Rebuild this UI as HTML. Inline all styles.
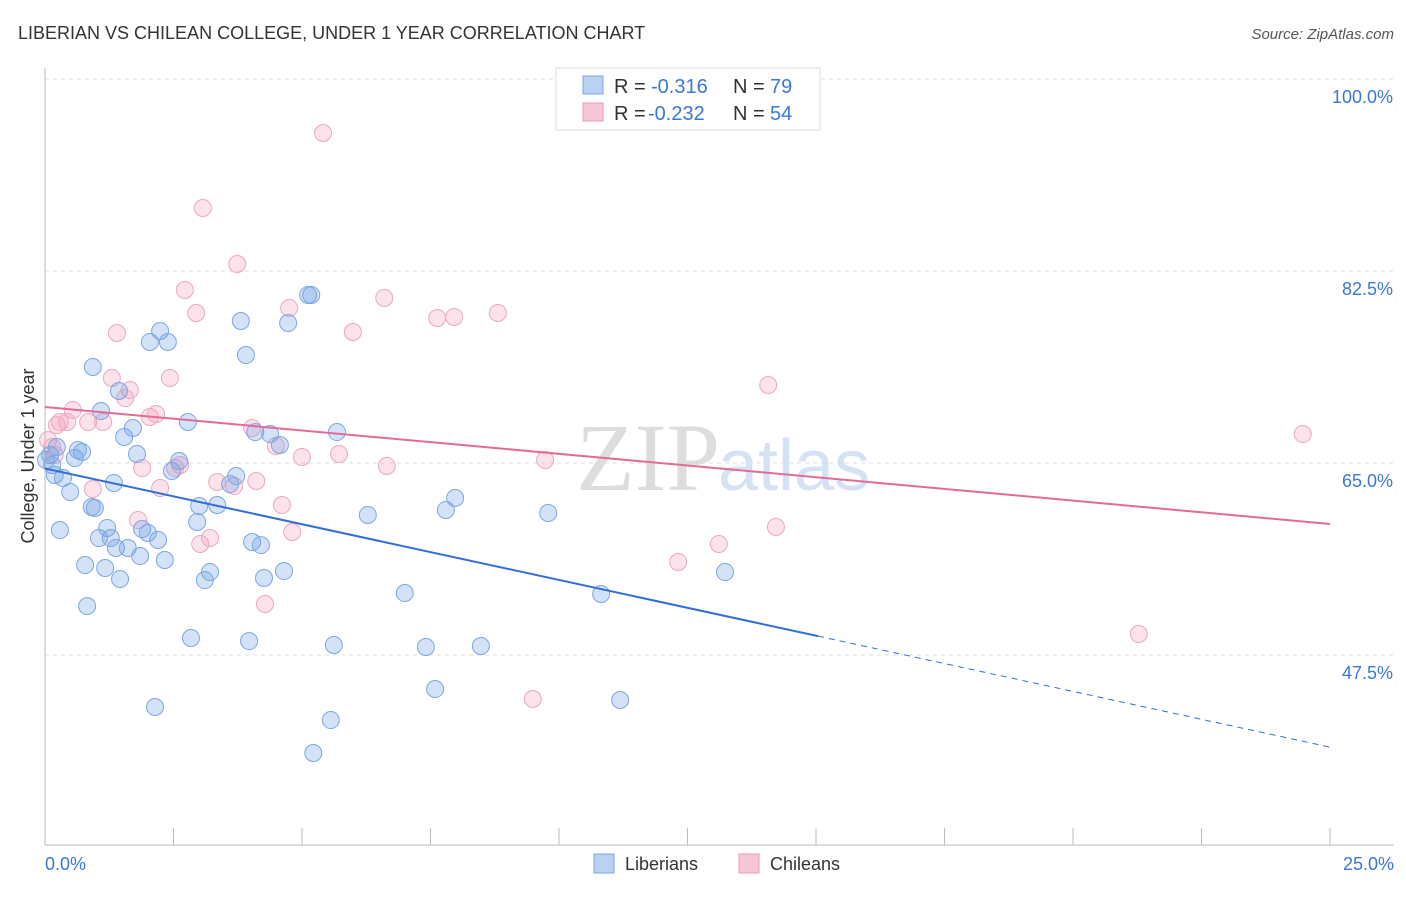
<!DOCTYPE html>
<html><head><meta charset="utf-8"><style>
body{margin:0;background:#fff;font-family:"Liberation Sans",sans-serif}
</style></head><body>
<svg width="1406" height="892" viewBox="0 0 1406 892" xmlns="http://www.w3.org/2000/svg">
<text x="18" y="39" font-size="18" fill="#333">LIBERIAN VS CHILEAN COLLEGE, UNDER 1 YEAR CORRELATION CHART</text>
<text x="1394" y="39" font-size="15" fill="#555" font-style="italic" text-anchor="end">Source: ZipAtlas.com</text>
<g id="grid"></g>
<text x="720" y="490" font-size="96" fill="#ddd" font-family="Liberation Serif" text-anchor="end">ZIP</text>
<text x="718" y="490" font-size="72" fill="#d5e2f3">atlas</text>
<g id="marks"></g>
<text transform="translate(34,456) rotate(-90)" font-size="18" fill="#333" text-anchor="middle">College, Under 1 year</text>
<text x="45" y="870" font-size="18" fill="#3a78d8">0.0%</text>
<text x="1394" y="870" font-size="18" fill="#3a78d8" text-anchor="end">25.0%</text>
<g>
<rect x="556" y="68" width="264" height="62" fill="#fff" stroke="#ddd"/>
<rect x="583" y="76" width="20" height="18" fill="#b9d1f3" stroke="#7aa5e3"/>
<rect x="583" y="103" width="20" height="18" fill="#f9c6d6" stroke="#eb9ab6"/>
<text x="614" y="93" font-size="20" fill="#333">R =</text>
<text x="651" y="93" font-size="20" fill="#3a78d8">-0.316</text>
<text x="733" y="93" font-size="20" fill="#333">N =</text>
<text x="770" y="93" font-size="20" fill="#3a78d8">79</text>
<text x="614" y="120" font-size="20" fill="#333">R =</text>
<text x="648" y="120" font-size="20" fill="#3a78d8">-0.232</text>
<text x="733" y="120" font-size="20" fill="#333">N =</text>
<text x="770" y="120" font-size="20" fill="#3a78d8">54</text>
</g>
<g>
<rect x="594" y="854" width="20" height="19" fill="#b9d1f3" stroke="#7aa5e3"/>
<text x="625" y="870" font-size="18" fill="#333">Liberians</text>
<rect x="739" y="854" width="20" height="19" fill="#f9c6d6" stroke="#eb9ab6"/>
<text x="770" y="870" font-size="18" fill="#333">Chileans</text>
</g>
</svg>
<script>
const yTicks=[100,82.5,65,47.5];
const yTickLabels=["100.0%","82.5%","65.0%","47.5%"];
const xTicks=[0,2.5,5,7.5,10,12.5,15,17.5,20,22.5,25];
const libX=[0.10,0.23,0.19,0.35,0.49,0.29,0.58,0.64,0.72,0.97,0.91,0.78,0.82,0.93,1.09,1.17,1.05,1.21,1.28,1.38,1.46,1.44,1.54,1.61,1.71,1.79,1.85,1.89,2.00,2.04,2.14,2.20,2.24,2.33,2.39,2.47,2.61,2.78,2.84,2.96,3.00,3.11,3.21,3.35,3.60,3.72,3.81,3.91,3.97,4.03,4.09,4.20,4.26,4.38,4.57,4.65,4.73,5.12,5.18,5.22,5.56,5.62,5.68,6.28,7.00,7.41,7.59,7.80,7.98,8.48,9.79,10.82,11.19,13.23,0.14,0.02,1.34];
const libY=[65.73,66.46,63.91,63.63,62.36,58.89,65.45,66.18,66.00,60.90,60.99,55.70,51.96,73.75,69.74,55.43,58.16,59.07,58.16,57.25,54.43,71.56,67.37,57.25,68.19,65.82,56.52,58.98,58.62,76.03,42.76,57.98,77.03,56.16,76.03,64.27,65.18,68.74,49.05,59.62,61.08,54.33,55.06,61.17,63.08,63.81,77.94,74.84,48.77,57.80,67.82,57.52,54.52,67.64,66.64,55.15,77.76,80.31,80.31,38.57,41.57,48.41,67.82,60.26,53.15,48.23,44.40,60.72,61.81,48.32,60.44,53.06,43.40,55.06,64.82,65.27,63.18];
const chiX=[5.41,3.07,3.74,2.72,4.75,6.60,2.94,7.63,7.96,8.81,1.40,5.99,1.30,1.65,2.43,1.56,14.07,0.54,0.29,0.43,0.84,1.13,2.04,2.16,4.03,4.49,5.00,5.72,6.65,9.73,24.47,0.14,0.19,0.93,1.89,2.24,2.53,2.63,3.35,3.68,4.11,4.61,4.81,3.21,3.02,1.81,4.28,12.32,13.11,14.22,21.28,9.49,0.06,0.23];
const chiY=[95.08,88.24,83.14,80.77,79.13,80.04,78.67,78.22,78.31,78.67,76.85,76.94,72.75,71.65,72.75,70.92,72.11,69.83,68.74,68.74,68.74,68.74,69.19,69.47,68.19,66.55,65.55,65.82,64.73,65.27,67.64,66.46,65.73,62.63,64.54,62.72,64.54,64.82,63.27,62.90,63.36,61.17,58.71,58.16,57.62,59.80,52.15,55.98,57.62,59.17,49.41,43.49,67.09,68.46];
const libTrend=[64.5,39.1]; const libSolidEnd=15.04;
const chiTrend=[70.1,59.44];
const NS="http://www.w3.org/2000/svg";
const X=v=>45+v/25*1285, Y=v=>79+(100-v)/17.5*192;
function mk(t,a,p){const e=document.createElementNS(NS,t);for(const k in a)e.setAttribute(k,a[k]);p.appendChild(e);return e;}
const grid=document.getElementById('grid'), marks=document.getElementById('marks');
yTicks.forEach((t,i)=>{
 const l=mk('line',{x1:45,x2:1394,y1:Y(t),y2:Y(t),stroke:'#ddd','stroke-dasharray':'4,4'},grid);
 
 
 const tx=mk('text',{x:1393,y:Y(t)+24,'font-size':18,fill:'#3a78d8','text-anchor':'end'},grid);
 tx.textContent=yTickLabels[i];
 
 
});
const ax=mk('line',{x1:45,x2:45,y1:68,y2:845,stroke:'#bbb'},grid);


const bx=mk('line',{x1:45,x2:1394,y1:845,y2:845,stroke:'#bbb'},grid);


xTicks.forEach(t=>{
 const l=mk('line',{x1:X(t),x2:X(t),y1:828,y2:845,stroke:'#bbb'},grid);
 
 
});
function pts(xs,ys,fill,stroke,name){
 xs.forEach((x,i)=>{
  const c=mk('circle',{cx:X(x),cy:Y(ys[i]),r:8.5,fill:fill,stroke:stroke,'stroke-width':1},marks);
  
  
 });
}
pts(chiX,chiY,'rgba(244,160,190,0.3)','#eba8c0','chilean-point');
pts(libX,libY,'rgba(110,160,230,0.3)','#7ba7e2','liberian-point');
const ly=x=>libTrend[0]+(libTrend[1]-libTrend[0])*x/25;
const t1=mk('line',{x1:X(0),y1:Y(libTrend[0]),x2:X(libSolidEnd),y2:Y(ly(libSolidEnd)),stroke:'#2f6fd6','stroke-width':2},marks);


const t2=mk('line',{x1:X(libSolidEnd),y1:Y(ly(libSolidEnd)),x2:X(25),y2:Y(libTrend[1]),stroke:'#2f6fd6','stroke-width':1,'stroke-dasharray':'6,5'},marks);


const t3=mk('line',{x1:X(0),y1:Y(chiTrend[0]),x2:X(25),y2:Y(chiTrend[1]),stroke:'#e46a98','stroke-width':2},marks);


</script>
</body></html>
